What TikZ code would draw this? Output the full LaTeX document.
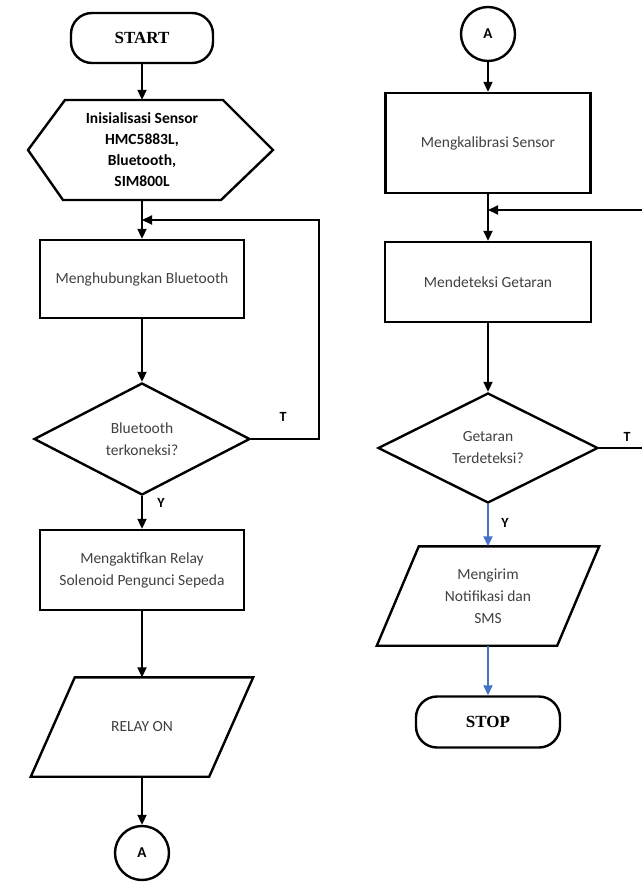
\documentclass[tikz,border=0pt]{standalone}
\usepackage{fontspec}
\setmainfont{Carlito}
\newfontfamily\termfont{Liberation Serif}
\usetikzlibrary{shapes.geometric,arrows.meta}
\definecolor{arrblue}{RGB}{68,114,196}

\begin{document}
\begin{tikzpicture}[x=1pt,y=-1pt,
  every node/.style={font=\fontsize{15.5}{22}\selectfont, text=black!75},
  border/.style={draw=black, line width=2.4pt},
  term/.style={border, rounded corners=21pt, minimum width=142pt, minimum height=50pt, font=\fontsize{17}{20}\selectfont\termfont\bfseries, text=black},
  proc/.style={border, minimum width=204pt, minimum height=80pt, align=center},
  dec/.style={border, diamond, minimum width=216pt, minimum height=112pt, inner sep=0pt, align=center},
  io/.style={minimum width=178pt, minimum height=99pt, inner sep=0pt, align=center},
  conn/.style={border, circle, minimum size=54pt, inner sep=0pt, font=\fontsize{15}{17}\selectfont\bfseries, text=black},
  line/.style={draw=black, line width=2pt, -{Triangle[length=10pt,width=9pt]}},
  lbl/.style={font=\fontsize{14}{16}\selectfont\bfseries, text=black}]
\useasboundingbox (0,0) rectangle (641,882);
% left column
\node[term] (start) at (142,38) {START};
\node[minimum height=100pt, align=center, font=\fontsize{15.5}{21}\selectfont\bfseries, text=black] (init) at (142,150) {Inisialisasi Sensor\\HMC5883L,\\Bluetooth,\\SIM800L};
\draw[border] (65,100) -- (223,100) -- (273,150) -- (221,200) -- (63,200) -- (28,150) -- cycle;
\node[proc, minimum height=78pt] (conbt) at (142,279) {Menghubungkan Bluetooth};
\node[dec] (cekbt) at (142,439) {Bluetooth\\terkoneksi?};
\node[proc] (relay) at (142,570) {Mengaktifkan Relay\\Solenoid Pengunci Sepeda};
\node[io] (relayon) at (142,727) {RELAY ON};
\draw[border] ([xshift=22pt]relayon.north west) -- ([xshift=22pt]relayon.north east) -- ([xshift=-22pt]relayon.south east) -- ([xshift=-22pt]relayon.south west) -- cycle;
\node[conn] (outA) at (142,853) {A};
\coordinate (j1) at (142,220);
\node[lbl] at (283,417) {T};
\node[lbl] at (161,503) {Y};
% right column
\node[conn] (inA) at (488,34) {A};
\node[proc, minimum width=205pt, minimum height=100pt] (kalib) at (488,143) {Mengkalibrasi Sensor};
\node[proc, minimum width=206pt] (deteksi) at (488,282) {Mendeteksi Getaran};
\node[dec, minimum width=220pt, minimum height=110pt] (cekgetar) at (488,448) {Getaran\\Terdeteksi?};
\node[io, minimum width=180pt] (kirim) at (488,596) {Mengirim\\Notifikasi dan\\SMS};
\draw[border] ([xshift=21pt]kirim.north west) -- ([xshift=21pt]kirim.north east) -- ([xshift=-21pt]kirim.south east) -- ([xshift=-21pt]kirim.south west) -- cycle;
\node[term, minimum width=144pt, minimum height=51pt] (stop) at (488,722) {STOP};
\coordinate (j2) at (488,210);
\node[lbl] at (627,437) {T};
\node[lbl] at (505,523) {Y};
% connectors
\draw[line] (start.south) -- (init.north);
\draw[line] (init.south) -- (conbt.north);
\draw[line] (conbt.south) -- (cekbt.north);
\draw[line] (cekbt.east) -- ++(68,0) |- (j1);
\draw[line] (cekbt.south) -- (relay.north);
\draw[line] (relay.south) -- (relayon.north);
\draw[line] (relayon.south) -- (outA.north);
\draw[line] (inA.south) -- (kalib.north);
\draw[line] (kalib.south) -- (deteksi.north);
\draw[line] (cekgetar.east) -- ++(70,0) |- (j2);
\draw[line] (deteksi.south) -- (cekgetar.north);
\draw[line, draw=arrblue] (cekgetar.south) -- (kirim.north);
\draw[line, draw=arrblue] (kirim.south) -- (stop.north);
\end{tikzpicture}
\end{document}
